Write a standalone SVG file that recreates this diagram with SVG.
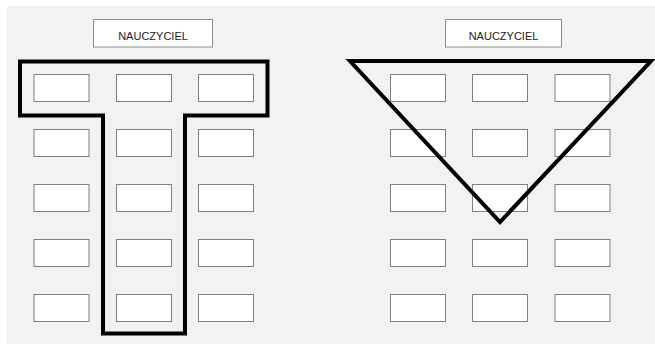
<svg xmlns="http://www.w3.org/2000/svg" width="655" height="345" viewBox="0 0 655 345">
<style>
.desk{fill:#ffffff;stroke:#7f7f7f;stroke-width:1}
.teacher{fill:#ffffff;stroke:#8c8c8c;stroke-width:1}
.lbl{font-family:"Liberation Sans",Arial,sans-serif;font-size:11px;fill:#222222;text-anchor:middle}
.shape{fill:none;stroke:#000000;stroke-width:4;stroke-linejoin:miter}
</style>
<rect x="7" y="6" width="648" height="338" fill="#f2f2f2"/>
<g id="teacher-left"><rect class="teacher" x="93.5" y="19.5" width="119" height="27.5"/><text class="lbl" x="153" y="39.5">NAUCZYCIEL</text></g>
<g id="teacher-right"><rect class="teacher" x="445.5" y="19.5" width="116" height="27.5"/><text class="lbl" x="503.5" y="39.5">NAUCZYCIEL</text></g>
<g id="desks-left">
<rect class="desk" x="34" y="74.5" width="55" height="27"/><rect class="desk" x="116.5" y="74.5" width="55" height="27"/><rect class="desk" x="198.5" y="74.5" width="55" height="27"/>
<rect class="desk" x="34" y="129.5" width="55" height="27"/><rect class="desk" x="116.5" y="129.5" width="55" height="27"/><rect class="desk" x="198.5" y="129.5" width="55" height="27"/>
<rect class="desk" x="34" y="184.5" width="55" height="27"/><rect class="desk" x="116.5" y="184.5" width="55" height="27"/><rect class="desk" x="198.5" y="184.5" width="55" height="27"/>
<rect class="desk" x="34" y="239.5" width="55" height="27"/><rect class="desk" x="116.5" y="239.5" width="55" height="27"/><rect class="desk" x="198.5" y="239.5" width="55" height="27"/>
<rect class="desk" x="34" y="294.5" width="55" height="27"/><rect class="desk" x="116.5" y="294.5" width="55" height="27"/><rect class="desk" x="198.5" y="294.5" width="55" height="27"/>
</g>
<g id="desks-right">
<rect class="desk" x="390.5" y="74.5" width="55" height="27"/><rect class="desk" x="472.5" y="74.5" width="55" height="27"/><rect class="desk" x="555" y="74.5" width="55" height="27"/>
<rect class="desk" x="390.5" y="129.5" width="55" height="27"/><rect class="desk" x="472.5" y="129.5" width="55" height="27"/><rect class="desk" x="555" y="129.5" width="55" height="27"/>
<rect class="desk" x="390.5" y="184.5" width="55" height="27"/><rect class="desk" x="472.5" y="184.5" width="55" height="27"/><rect class="desk" x="555" y="184.5" width="55" height="27"/>
<rect class="desk" x="390.5" y="239.5" width="55" height="27"/><rect class="desk" x="472.5" y="239.5" width="55" height="27"/><rect class="desk" x="555" y="239.5" width="55" height="27"/>
<rect class="desk" x="390.5" y="294.5" width="55" height="27"/><rect class="desk" x="472.5" y="294.5" width="55" height="27"/><rect class="desk" x="555" y="294.5" width="55" height="27"/>
</g>
<g id="connectors">
<path id="t-shape" class="shape" d="M20,61.5 H267.5 V115.5 H185 V333.5 H103 V115.5 H20 Z"/>
<path id="triangle" class="shape" d="M350,61 H651 L500,222 Z"/>
</g>
</svg>
